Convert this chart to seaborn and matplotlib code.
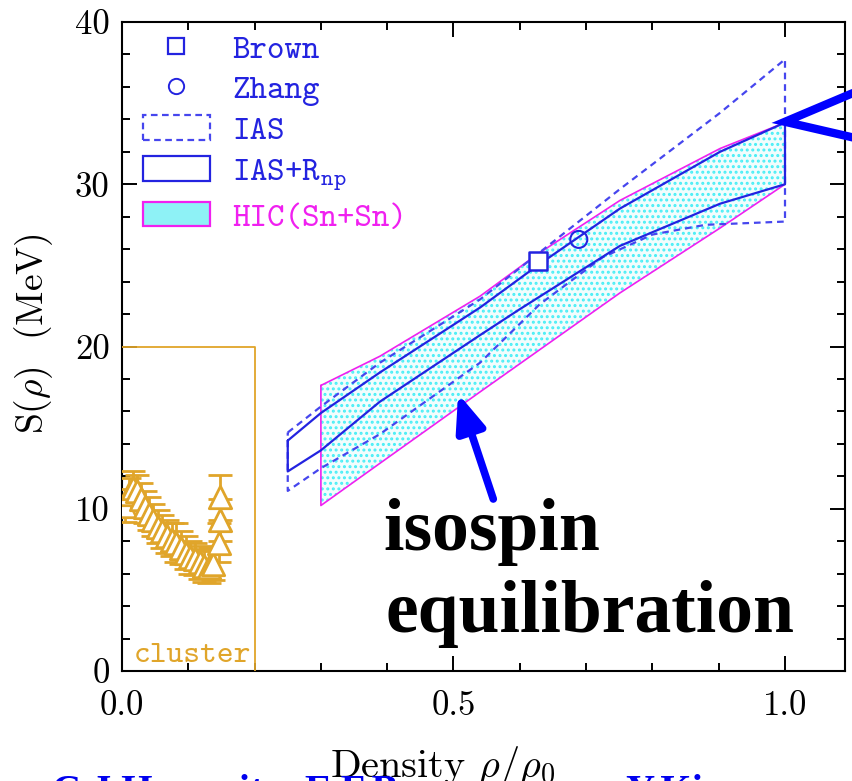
import numpy as np
import pandas as pd
import matplotlib
matplotlib.use("Agg")
import matplotlib.pyplot as plt
import seaborn as sns
from matplotlib.patches import Patch
from matplotlib.lines import Line2D
from matplotlib.ticker import MultipleLocator

# ---------------- data ----------------
brown_x = [0.627]
brown_y = [25.3]
zhang_x = [0.689]
zhang_y = [26.6]

hic_up_x = [0.30, 0.389, 0.54, 0.627, 0.751, 0.902, 1.0]
hic_up_y = [17.6, 19.4, 23.1, 25.7, 29.0, 32.2, 33.8]
hic_lo_x = [0.30, 0.389, 0.54, 0.751, 0.902, 1.0]
hic_lo_y = [10.2, 12.8, 17.2, 23.3, 27.3, 30.0]

rnp_up_x = [0.25, 0.30, 0.389, 0.54, 0.627, 0.751, 0.902, 1.0]
rnp_up_y = [14.2, 15.9, 18.4, 22.4, 25.0, 28.5, 32.0, 33.8]
rnp_lo_x = [0.25, 0.30, 0.389, 0.54, 0.60, 0.751, 0.902, 1.0]
rnp_lo_y = [12.3, 13.6, 16.6, 20.7, 22.3, 26.2, 28.8, 30.0]

ias_up_x = [0.25, 0.30, 0.389, 0.54, 0.751, 0.902, 1.0]
ias_up_y = [14.7, 16.3, 19.0, 22.9, 29.7, 34.4, 37.7]
ias_lo_x = [0.25, 0.30, 0.389, 0.54, 0.63, 0.725, 0.80, 0.88, 1.0]
ias_lo_y = [11.1, 12.5, 14.6, 19.0, 22.6, 25.5, 26.9, 27.5, 27.7]

cl_x = [0.004, 0.010, 0.016, 0.022, 0.028, 0.034, 0.040, 0.047, 0.054, 0.061,
        0.068, 0.075, 0.082, 0.089, 0.096, 0.103, 0.110, 0.117, 0.124, 0.131,
        0.138, 0.146, 0.148, 0.148]
cl_y = [10.2, 10.9, 11.3, 11.1, 10.6, 10.1, 9.7, 9.3, 8.9, 8.6,
        8.3, 8.1, 7.9, 7.6, 7.3, 7.0, 6.9, 6.7, 6.5, 6.4,
        6.6, 7.9, 9.3, 10.7]
cl_err = [1.0, 1.0, 1.0, 1.0, 1.0, 1.0, 1.0, 1.0, 1.0, 1.0,
          1.0, 1.0, 1.2, 1.0, 1.0, 1.0, 1.0, 1.0, 1.0, 1.0,
          1.0, 1.2, 1.3, 1.4]

legend_labels = ["Brown", "Zhang", "IAS", r"IAS+R$_{\mathtt{np}}$", "HIC(Sn+Sn)"]

# ---------------- style ----------------
sns.set_theme(style="ticks")
plt.rcParams["font.family"] = ["cmr10", "DejaVu Sans"]
plt.rcParams["mathtext.fontset"] = "cm"
plt.rcParams["axes.formatter.use_mathtext"] = True
plt.rcParams["hatch.linewidth"] = 1.4
for k in ["text.color", "axes.labelcolor", "xtick.color", "ytick.color"]:
    plt.rcParams[k] = "black"

BLUE = "#2323e0"
DBLUE = "#4646ee"
MAG = "#f020f0"
CYAN = "#48eef6"
ORANGE = "#e0a52a"

W, H = 852, 781
fig = plt.figure(figsize=(W / 100, H / 100), dpi=100)
ax = fig.add_axes([122 / W, (H - 671) / H, (845 - 122) / W, (671 - 22) / H])
ax.set_xlim(0, 1.0905)
ax.set_ylim(0, 40)


def closed(xu, yu, xl, yl):
    xs = list(xu) + list(xl[::-1]) + [xu[0]]
    ys = list(yu) + list(yl[::-1]) + [yu[0]]
    return xs, ys


# HIC band (hatched cyan fill + magenta outline)
hx, hy = closed(hic_up_x, hic_up_y, hic_lo_x, hic_lo_y)
ax.fill(hx, hy, facecolor="#f2fdfd", edgecolor=CYAN, hatch="...", lw=0, zorder=1)
sns.lineplot(x=hx, y=hy, sort=False, estimator=None, ax=ax, color=MAG, lw=1.2, zorder=2)

# IAS (dashed)
ix, iy = closed(ias_up_x, ias_up_y, ias_lo_x, ias_lo_y)
sns.lineplot(x=ix, y=iy, sort=False, estimator=None, ax=ax, color=DBLUE, lw=1.6,
             linestyle=(0, (3, 2.2)), zorder=3)

# IAS+Rnp (solid)
rx, ry = closed(rnp_up_x, rnp_up_y, rnp_lo_x, rnp_lo_y)
sns.lineplot(x=rx, y=ry, sort=False, estimator=None, ax=ax, color=BLUE, lw=1.6, zorder=4)

# Brown / Zhang points
sns.scatterplot(x=brown_x, y=brown_y, ax=ax, marker="s", s=150, facecolor="white",
                edgecolor=BLUE, linewidth=1.8, zorder=6)
sns.scatterplot(x=zhang_x, y=zhang_y, ax=ax, marker="o", s=150, facecolor="none",
                edgecolor=BLUE, linewidth=1.5, zorder=6)

# cluster data
ax.errorbar(cl_x, cl_y, yerr=cl_err, fmt="none", ecolor=ORANGE, elinewidth=2.0,
            capsize=8.5, capthick=2.0, zorder=5)
sns.scatterplot(x=cl_x, y=cl_y, ax=ax, marker="^", s=260, facecolor="white",
                edgecolor=ORANGE, linewidth=2.0, zorder=6)
ax.plot([0, 0.2, 0.2], [20, 20, 0], color=ORANGE, lw=1.3, zorder=5)
ax.text(0.017, 0.55, "cluster", color=ORANGE, fontsize=23, family="cmtt10",
        va="baseline", ha="left")

# axis styling
ax.xaxis.set_major_locator(MultipleLocator(0.5))
ax.xaxis.set_minor_locator(MultipleLocator(0.1))
ax.yaxis.set_major_locator(MultipleLocator(10))
ax.yaxis.set_minor_locator(MultipleLocator(2))
ax.xaxis.set_major_formatter(matplotlib.ticker.FormatStrFormatter("%.1f"))
ax.yaxis.set_major_formatter(matplotlib.ticker.FormatStrFormatter("%d"))
ax.tick_params(which="both", direction="in", top=True, right=True, color="black",
               width=1.4)
ax.tick_params(which="major", length=11, labelsize=25, pad=9)
ax.tick_params(which="minor", length=5.5)
ax.tick_params(axis="x", which="major", pad=14)
for sp in ax.spines.values():
    sp.set_linewidth(1.5)
    sp.set_color("black")

ax.set_xlabel(r"Density $\rho/\rho_0$", fontsize=29)
ax.xaxis.set_label_coords(0.444, -0.112)
ax.set_ylabel(r"S($\rho$)  (MeV)", fontsize=27)
ax.yaxis.set_label_coords(-0.093, 0.52)

# legend
handles = [
    Line2D([], [], marker="s", ls="none", mec=BLUE, mfc="none", ms=11, mew=1.6),
    Line2D([], [], marker="o", ls="none", mec=BLUE, mfc="none", ms=11, mew=1.4),
    Patch(facecolor="none", edgecolor=DBLUE, linestyle=(0, (3, 2)), lw=1.6),
    Patch(facecolor="none", edgecolor=BLUE, lw=1.6),
    Patch(facecolor="#8ef2f6", edgecolor=MAG, lw=1.6),
]
leg = ax.legend(handles, legend_labels, loc="upper left", bbox_to_anchor=(0.029, 0.982),
                frameon=False, prop={"family": "cmtt10", "size": 24},
                handlelength=2.0, handleheight=0.75, handletextpad=0.68,
                labelspacing=0.27, borderpad=0, borderaxespad=0)
for t, c in zip(leg.get_texts(), [BLUE, BLUE, BLUE, BLUE, MAG]):
    t.set_color(c)

# annotations
ax.annotate("", xy=(0.507, 17.1), xytext=(0.56, 10.6),
            arrowprops=dict(arrowstyle="-|>,head_length=1.0,head_width=0.4",
                            mutation_scale=22, lw=5.5, color="#0000ff",
                            shrinkA=0, shrinkB=0), zorder=8)
ax.plot([1.14, 1.0, 1.14], [36.27, 33.85, 32.53], color="#0000ff", lw=6,
        clip_on=False, solid_joinstyle="miter", zorder=8)

fig.text(383 / W, 1 - 550 / H, "isospin", family="Liberation Serif", weight="bold",
         fontsize=53, color="black", va="baseline", ha="left")
fig.text(385 / W, 1 - 632 / H, "equilibration", family="Liberation Serif",
         weight="bold", fontsize=53, color="black", va="baseline", ha="left")

for txt, xp in [("C.J.Horowitz,", 52), ("E.F.Brown,", 304), ("Y.Kim,", 625)]:
    fig.text(xp / W, 1 - 802 / H, txt, family="Liberation Serif", weight="bold",
             fontsize=29, color="#0000ee", va="baseline", ha="left")

fig.savefig("out.png", dpi=100)
